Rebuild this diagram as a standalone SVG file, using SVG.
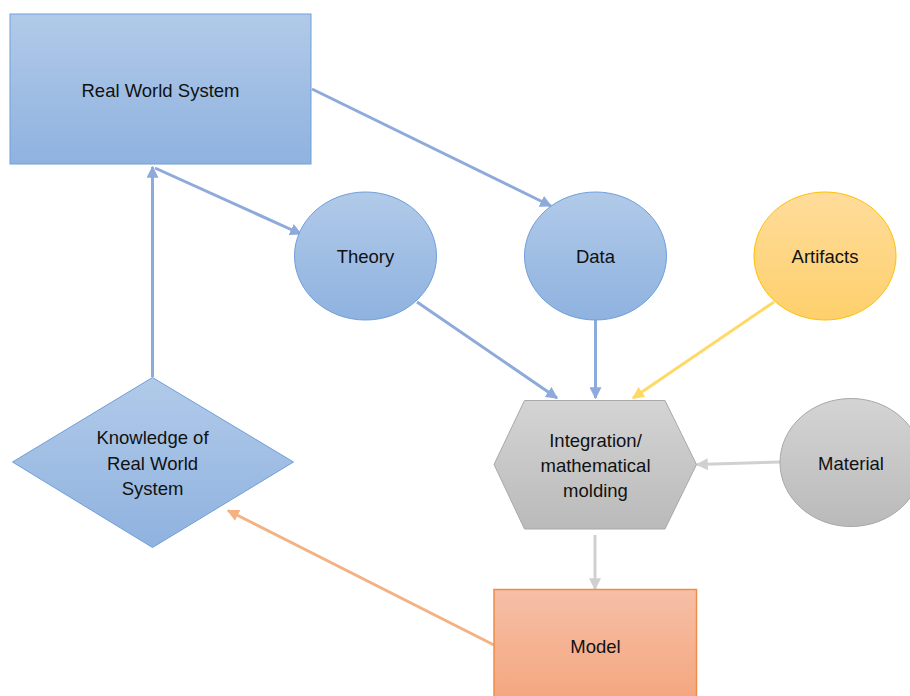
<svg xmlns="http://www.w3.org/2000/svg" width="910" height="696" viewBox="0 0 910 696">
  <defs>
    <linearGradient id="gBlue" x1="0" y1="0" x2="0" y2="1">
      <stop offset="0" stop-color="#b1cae9"/>
      <stop offset="1" stop-color="#8fb2df"/>
    </linearGradient>
    <linearGradient id="gYellow" x1="0" y1="0" x2="0" y2="1">
      <stop offset="0" stop-color="#fedc9b"/>
      <stop offset="1" stop-color="#fed06c"/>
    </linearGradient>
    <linearGradient id="gGray" x1="0" y1="0" x2="0" y2="1">
      <stop offset="0" stop-color="#d4d4d4"/>
      <stop offset="1" stop-color="#bababa"/>
    </linearGradient>
    <linearGradient id="gOrange" x1="0" y1="0" x2="0" y2="1">
      <stop offset="0" stop-color="#f6bfa6"/>
      <stop offset="1" stop-color="#f4a47c"/>
    </linearGradient>
    <marker id="aBlue" viewBox="0 0 10 10" refX="9" refY="5" markerWidth="4" markerHeight="4" orient="auto" markerUnits="strokeWidth">
      <path d="M0,0 L10,5 L0,10 z" fill="#8eaadb"/>
    </marker>
    <marker id="aYellow" viewBox="0 0 10 10" refX="9" refY="5" markerWidth="4" markerHeight="4" orient="auto" markerUnits="strokeWidth">
      <path d="M0,0 L10,5 L0,10 z" fill="#ffd966"/>
    </marker>
    <marker id="aGray" viewBox="0 0 10 10" refX="9" refY="5" markerWidth="4" markerHeight="4" orient="auto" markerUnits="strokeWidth">
      <path d="M0,0 L10,5 L0,10 z" fill="#d0d0d0"/>
    </marker>
    <marker id="aOrange" viewBox="0 0 10 10" refX="9" refY="5" markerWidth="4" markerHeight="4" orient="auto" markerUnits="strokeWidth">
      <path d="M0,0 L10,5 L0,10 z" fill="#f4b183"/>
    </marker>
  </defs>
  <style>
    text { font-family: "Liberation Sans", Arial, sans-serif; font-size: 18.5px; fill: #111; text-anchor: middle; }
    .blue { fill: url(#gBlue); stroke: #6f9fd8; stroke-width: 1; }
    .yellow { fill: url(#gYellow); stroke: #ffc000; stroke-width: 1; }
    .gray { fill: url(#gGray); stroke: #a8a8a8; stroke-width: 1; }
    .orange { fill: url(#gOrange); stroke: #f08c48; stroke-width: 1.5; }
    .c { fill: none; stroke-width: 3; }
    .cb { stroke: #8eaadb; marker-end: url(#aBlue); }
    .cy { stroke: #ffd966; marker-end: url(#aYellow); }
    .cg { stroke: #d0d0d0; marker-end: url(#aGray); }
    .co { stroke: #f4b183; marker-end: url(#aOrange); }
  </style>

  <!-- connectors -->
  <g id="connectors">
    <line class="c cb" x1="152.5" y1="377" x2="152.5" y2="167"/>
    <line class="c cb" x1="155" y1="168" x2="301" y2="234"/>
    <line class="c cb" x1="312" y1="89" x2="551" y2="206"/>
    <line class="c cb" x1="417" y1="302" x2="557" y2="398"/>
    <line class="c cb" x1="595.5" y1="320" x2="595.5" y2="398"/>
    <line class="c cy" x1="774" y1="302" x2="633" y2="398"/>
    <line class="c cg" x1="780" y1="462" x2="697" y2="464.5"/>
    <line class="c cg" x1="595" y1="535" x2="595" y2="589"/>
    <line class="c co" x1="494" y1="645" x2="228" y2="510.5"/>
  </g>

  <g id="real-world-system">
    <rect class="blue" x="10" y="14" width="301" height="150"/>
    <text x="160.5" y="96.5">Real World System</text>
  </g>

  <g id="theory">
    <ellipse class="blue" cx="365.5" cy="256" rx="71" ry="64"/>
    <text x="365.5" y="263">Theory</text>
  </g>

  <g id="data">
    <ellipse class="blue" cx="595.5" cy="256" rx="71" ry="64"/>
    <text x="595.5" y="263">Data</text>
  </g>

  <g id="artifacts">
    <ellipse class="yellow" cx="825" cy="256" rx="71" ry="64"/>
    <text x="825" y="263">Artifacts</text>
  </g>

  <g id="integration">
    <polygon class="gray" points="524.5,400.5 665,400.5 696.5,464.5 665,529 524.5,529 494,464.5"/>
    <text x="595.5" y="447">Integration/</text>
    <text x="595.5" y="472">mathematical</text>
    <text x="595.5" y="497">molding</text>
  </g>

  <g id="material">
    <ellipse class="gray" cx="851" cy="462.5" rx="71" ry="64"/>
    <text x="851" y="470">Material</text>
  </g>

  <g id="model">
    <rect class="orange" x="494" y="589.5" width="202.5" height="120"/>
    <text x="595.5" y="653">Model</text>
  </g>

  <g id="knowledge">
    <polygon class="blue" points="152.5,377.5 293.5,462 152.5,547.5 12.5,462"/>
    <text x="152.5" y="443.5">Knowledge of</text>
    <text x="152.5" y="469.5">Real World</text>
    <text x="152.5" y="494.5">System</text>
  </g>
</svg>
